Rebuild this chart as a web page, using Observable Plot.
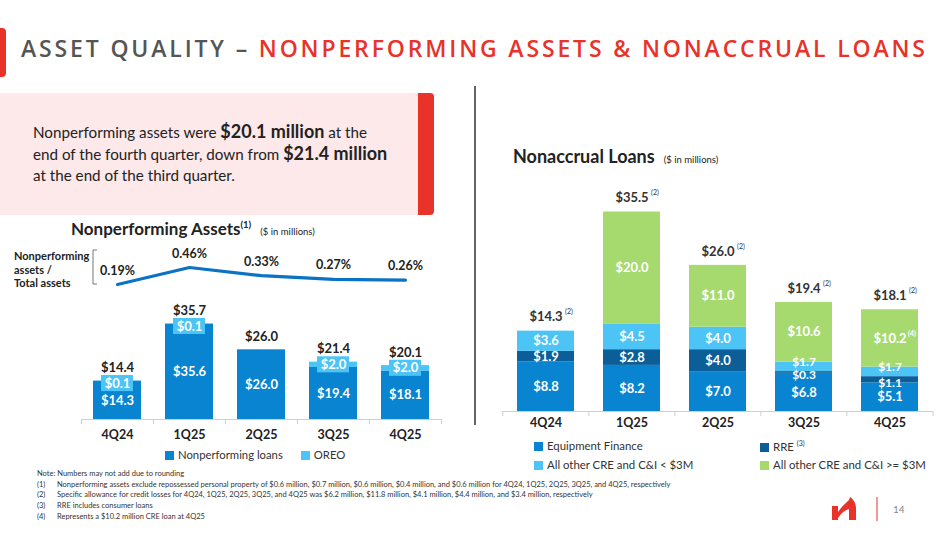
<!DOCTYPE html>
<html><head><meta charset="utf-8">
<script src="https://cdn.jsdelivr.net/npm/d3@7"></script>
<script src="https://cdn.jsdelivr.net/npm/@observablehq/plot@0.6"></script>
<style>
body{margin:0;background:#fff;font-family:Lato,"Open Sans",sans-serif;}
#slide{position:relative;width:949px;height:534px;overflow:hidden;background:#fff;}
.abs{position:absolute;}
.sw{display:inline-block;width:9px;height:9px;margin-right:4px;vertical-align:-1px;}
</style></head><body>
<div id="slide">
  <svg class="abs" style="left:0;top:0" width="949" height="534" id="deco">
    <rect x="-5" y="28" width="11" height="49" rx="4" fill="#e8322a"/>
    <text x="21" y="57" font-family="Open Sans" font-weight="600" font-size="23" textLength="904" lengthAdjust="spacing"><tspan fill="#555">ASSET QUALITY – </tspan><tspan fill="#e8322a">NONPERFORMING ASSETS &amp; NONACCRUAL LOANS</tspan></text>
    <rect x="0" y="93" width="428" height="122" fill="#fde8ea"/>
    <rect x="418" y="93" width="16" height="122" rx="4" fill="#e8322a"/>
    <rect x="418" y="93" width="6" height="122" fill="#e8322a"/>
    <line x1="475" y1="86" x2="475" y2="425" stroke="#666" stroke-width="2"/>
    <path d="M97 250 H93 V284 H97" fill="none" stroke="#777" stroke-width="1"/>
    <path d="M832 506 H838 V512 C842 506 846 503 849 500 L850 497 C853 499 856 503 856 508 V520 H849 V509 C845 510 841 513 838 518 V520 H832 Z" fill="#e8322a"/>
    <line x1="877" y1="497" x2="877" y2="521" stroke="#e8322a" stroke-width="1"/>
    <text x="893" y="513" font-size="10" fill="#888" font-family="Lato">14</text>
    <g font-family="Lato" font-size="7.5" fill="#333" id="notes"></g>
  </svg>
  <div class="abs" style="left:33px;top:121px;font-size:15.2px;line-height:21px;color:#222;">Nonperforming assets were <b style="font-size:18px">$20.1 million</b> at the<br>end of the fourth quarter, down from <b style="font-size:18px">$21.4 million</b><br>at the end of the third quarter.</div>
  <div class="abs" style="left:71px;top:218px;white-space:nowrap;color:#222;"><b style="font-size:17px">Nonperforming Assets<sup style="font-size:9.5px">(1)</sup></b> <span style="font-size:9.5px;margin-left:5px">($ in millions)</span></div>
  <div class="abs" style="left:14px;top:249px;font-size:11px;line-height:13.5px;font-weight:bold;color:#222;">Nonperforming<br>assets /<br>Total assets</div>
  <div class="abs" id="ratio" style="left:0;top:240px"></div>
  <div class="abs" id="npa" style="left:0;top:290px"></div>
  <div class="abs" style="left:165px;top:448px;font-size:11.3px;color:#333;white-space:nowrap;" id="leg1"></div>
  <div class="abs" style="left:513px;top:145px;white-space:nowrap;color:#222;"><b style="font-size:18px">Nonaccrual Loans</b> <span style="font-size:9.5px;margin-left:5px">($ in millions)</span></div>
  <div class="abs" id="nal" style="left:490px;top:180px"></div>
  <div class="abs" id="leg2" style="left:534px;top:439px;font-size:11.4px;color:#333;"></div>
</div>
<script>
const quarters = ["4Q24","1Q25","2Q25","3Q25","4Q25"];
const npaRatio = [0.19,0.46,0.33,0.27,0.26];
const nonperformingLoans = [14.3,35.6,26.0,19.4,18.1];
const oreo = [0.1,0.1,0.0,2.0,2.0];
const npaTotal = [14.4,35.7,26.0,21.4,20.1];
const npaSeries = ["Nonperforming loans","OREO"];

const nalSeries = ["Equipment Finance","RRE","All other CRE and C&I < $3M","All other CRE and C&I >= $3M"];
const equipmentFinance = [8.8,8.2,7.0,6.8,5.1];
const rre = [1.9,2.8,4.0,0.3,1.1];
const creSmall = [3.6,4.5,4.0,1.7,1.7];
const creLarge = [0,20.0,11.0,10.6,10.2];
const nalTotal = [14.3,35.5,26.0,19.4,18.1];
const nalNotes = [{q:"4Q25", series:"All other CRE and C&I >= $3M", note:"(4)"}];

const footnotes = [
  ["","Note: Numbers may not add due to rounding"],
  ["(1)","Nonperforming assets exclude repossessed personal property of $0.6 million, $0.7 million, $0.6 million, $0.4 million, and $0.6 million for 4Q24, 1Q25, 2Q25, 3Q25, and 4Q25, respectively"],
  ["(2)","Specific allowance for credit losses for 4Q24, 1Q25, 2Q25, 3Q25, and 4Q25 was $6.2 million, $11.8 million, $4.1 million, $4.4 million, and $3.4 million, respectively"],
  ["(3)","RRE includes consumer loans"],
  ["(4)","Represents a $10.2 million CRE loan at 4Q25"]
];

const C_DARK = "#0884d0", C_LIGHT = "#4dc4f6", C_NAVY = "#0b5e97", C_GREEN = "#a7da6e", C_LINE = "#0b72c4";
const fmt = v => "$" + v.toFixed(1);
const FONT = "Lato";

// ratio line
const ratioData = quarters.map((q,i)=>({q, v:npaRatio[i]}));
const ratioPlot = Plot.plot({
  width:460, height:60, marginTop:0, marginBottom:0, marginLeft:81, marginRight:19,
  style:{fontFamily:FONT, overflow:"visible", background:"transparent"},
  x:{type:"band", domain:quarters, paddingInner:0.33, paddingOuter:0.165, axis:null},
  y:{domain:[0.19,0.46], range:[44,27], axis:null},
  marks:[
    Plot.line(ratioData,{x:"q", y:"v", stroke:C_LINE, strokeWidth:3.2}),
    Plot.text(ratioData,{x:"q", y:"v", text:d=>d.v.toFixed(2)+"%", dy:-14, fontWeight:"bold", fontSize:12.5, fill:"#222"})
  ]
});
document.getElementById("ratio").append(ratioPlot);

// NPA bars
const npaRows = quarters.flatMap((q,i)=>[
  {q, series:npaSeries[0], y1:0, y2:nonperformingLoans[i], v:nonperformingLoans[i]},
  {q, series:npaSeries[1], y1:nonperformingLoans[i], y2:nonperformingLoans[i]+oreo[i], v:oreo[i]}
]);
const oreoBoxes = quarters.map((q,i)=>({q, v:oreo[i], top:npaTotal[i]})).filter(d=>d.v>0);
const totals1 = quarters.map((q,i)=>({q, v:npaTotal[i]}));
const step1 = 72;
const npaPlot = Plot.plot({
  width:460, height:160, marginTop:0, marginBottom:31, marginLeft:81, marginRight:19,
  style:{fontFamily:FONT, overflow:"visible", background:"transparent"},
  x:{type:"band", domain:quarters, paddingInner:0.33, paddingOuter:0.165, axis:null},
  y:{domain:[0,40], range:[129, 129-40*2.68], axis:null},
  color:{domain:npaSeries, range:[C_DARK, C_LIGHT]},
  marks:[
    Plot.barY(npaRows,{x:"q", y1:"y1", y2:"y2", fill:"series"}),
    Plot.barY(oreoBoxes,{x:"q", y1:d=>d.top-4, y2:d=>d.top+2, fill:C_LIGHT, insetLeft:8, insetRight:8}),
    Plot.text(oreoBoxes,{x:"q", y:d=>d.top-1, text:d=>fmt(d.v), fill:"#fff", fontWeight:"bold", fontSize:13}),
    Plot.text(npaRows.filter(d=>d.series===npaSeries[0]),{x:"q", y:d=>(d.y1+d.y2)/2, text:d=>fmt(d.v), fill:"#fff", fontWeight:"bold", fontSize:13}),
    Plot.text(totals1,{x:"q", y:"v", text:d=>fmt(d.v), dy:-13, fill:"#222", fontWeight:"bold", fontSize:13}),
    Plot.ruleY([0],{stroke:"#cfcfcf"}),
    Plot.ruleX(quarters,{x:d=>d, y1:0, y2:0, dx:-step1/2, insetBottom:-5, stroke:"#cfcfcf"}),
    Plot.ruleX(quarters.slice(-1),{x:d=>d, y1:0, y2:0, dx:step1/2, insetBottom:-5, stroke:"#cfcfcf"}),
    Plot.axisX({tickSize:0, tickPadding:11, fontWeight:"bold", fontSize:12.5, color:"#222", label:null})
  ]
});
document.getElementById("npa").append(npaPlot);

// NAL bars
const nalArrays = [equipmentFinance, rre, creSmall, creLarge];
const nalRows = [];
quarters.forEach((q,i)=>{
  let base = 0;
  nalArrays.forEach((arr,k)=>{
    nalRows.push({q, series:nalSeries[k], y1:base, y2:base+arr[i], v:arr[i]});
    base += arr[i];
  });
});
// thin neighbouring segments: nudge labels apart as the reference does
const isThinPair = d => d.v > 0 && d.v < 1.8 && (d.series === nalSeries[1] || d.series === nalSeries[2]);
const labelRows = nalRows.filter(d => d.v > 0);
const totals2 = quarters.map((q,i)=>({q, v:nalTotal[i]}));
const noteRows = nalNotes.map(n=>{ const r = nalRows.find(d=>d.q===n.q && d.series===n.series); return {...n, y:(r.y1+r.y2)/2}; });
const step2 = 431/5;
const segText = {x:"q", y:d=>(d.y1+d.y2)/2, text:d=>fmt(d.v), fill:"#fff", fontWeight:"bold", fontSize:13};
const nalPlot = Plot.plot({
  width:459, height:260, marginTop:0, marginBottom:29, marginLeft:12, marginRight:16,
  style:{fontFamily:FONT, overflow:"visible", background:"transparent"},
  x:{type:"band", domain:quarters, paddingInner:0.34, paddingOuter:0.17, axis:null},
  y:{domain:[0,40], range:[231, 231-40*5.62], axis:null},
  color:{domain:nalSeries, range:[C_DARK, C_NAVY, C_LIGHT, C_GREEN]},
  marks:[
    Plot.barY(labelRows,{x:"q", y1:"y1", y2:"y2", fill:"series"}),
    Plot.text(labelRows.filter(d=>!isThinPair(d)), segText),
    Plot.text(labelRows.filter(d=>isThinPair(d) && d.series===nalSeries[2]), {...segText, dy:-5, fontSize:12}),
    Plot.text(labelRows.filter(d=>isThinPair(d) && d.series===nalSeries[1]), {...segText, dy:3, fontSize:12}),
    Plot.text(noteRows,{x:"q", y:"y", text:"note", dx:22, dy:-5, fill:"#fff", fontWeight:"bold", fontSize:7}),
    Plot.text(totals2,{x:"q", y:"v", text:d=>fmt(d.v), dy:-14, fill:"#333", fontWeight:"bold", fontSize:13}),
    Plot.text(totals2,{x:"q", y:"v", text:()=>"(2)", dx:23, dy:-19, fill:"#333", fontSize:7}),
    Plot.ruleY([0],{stroke:"#cfcfcf"}),
    Plot.ruleX(quarters,{x:d=>d, y1:0, y2:0, dx:-step2/2, insetBottom:-5, stroke:"#cfcfcf"}),
    Plot.ruleX(quarters.slice(-1),{x:d=>d, y1:0, y2:0, dx:step2/2, insetBottom:-5, stroke:"#cfcfcf"}),
    Plot.axisX({tickSize:0, tickPadding:7, fontWeight:"bold", fontSize:12.5, color:"#222", label:null})
  ]
});
document.getElementById("nal").append(nalPlot);

// legends
const leg1 = document.getElementById("leg1");
leg1.innerHTML = npaSeries.map((s,i)=>`<span style="margin-right:${i===0?18:0}px"><span class="sw" style="background:${[C_DARK,C_LIGHT][i]}"></span>${s}</span>`).join("");
const leg2 = document.getElementById("leg2");
const legColors = [C_DARK, C_NAVY, C_LIGHT, C_GREEN];
leg2.innerHTML = nalSeries.map((s,i)=>{
  const left = (i%2)*226, top = Math.floor(i/2)*19;
  const sup = s==="RRE" ? `<sup style="font-size:7px;margin-left:3px">(3)</sup>` : "";
  return `<div style="position:absolute;left:${left}px;top:${top}px;white-space:nowrap"><span class="sw" style="background:${legColors[i]}"></span>${s.replace("&","&amp;").replace("<","&lt;").replace(">","&gt;")}${sup}</div>`;
}).join("");

// footnotes
const g = d3.select("#notes");
footnotes.forEach((f,i)=>{
  const y = 476 + i*10.7;
  if (f[0]) g.append("text").attr("x",37).attr("y",y).text(f[0]);
  g.append("text").attr("x", f[0] ? 57 : 37).attr("y", y).text(f[1]);
});
</script>
</body></html>
